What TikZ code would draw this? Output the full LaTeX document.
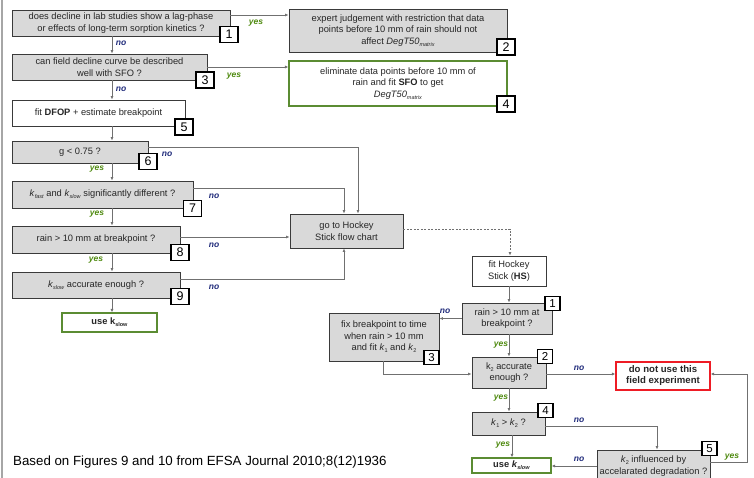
\documentclass[tikz,border=0pt]{standalone}
\usepackage{fontspec}
\setmainfont{Liberation Sans}
\usetikzlibrary{arrows.meta}
\definecolor{boxgray}{HTML}{D9D9D9}
\definecolor{edgegray}{HTML}{3A3A3A}
\definecolor{linegray}{HTML}{707070}
\definecolor{yesgreen}{HTML}{4F8A10}
\definecolor{nonavy}{HTML}{1F2A7A}
\definecolor{boxgreen}{HTML}{5B8C32}
\definecolor{boxred}{HTML}{EE1C25}
\definecolor{txt}{HTML}{262626}
\newcommand\lowsub[1]{\raisebox{-0.45ex}{\fontsize{5.5}{5.5}\selectfont #1}}
\tikzset{
  box/.style={draw=edgegray, line width=0.9pt, fill=boxgray, align=center, inner sep=1pt,
    font=\fontsize{9.3}{11.5}\selectfont, text=txt},
  wbox/.style={box, fill=white},
  gbox/.style={box, fill=white, draw=boxgreen, line width=1.1pt},
  rbox/.style={box, fill=white, draw=boxred, line width=1.1pt, font=\bfseries\fontsize{9.6}{11}\selectfont},
  badge/.style={draw=black, line width=1.1pt, fill=white, minimum width=18pt, minimum height=16pt,
    inner sep=0pt, font=\fontsize{12.5}{13}\selectfont},
  sbadge/.style={badge, minimum width=15pt, minimum height=13.5pt, font=\fontsize{11.5}{12}\selectfont},
  conn/.style={draw=linegray, line width=0.75pt, -{Latex[length=3.5pt,width=3pt]}},
  yeslab/.style={text=yesgreen, font=\bfseries\itshape\fontsize{8.5}{9}\selectfont, inner sep=0pt},
  nolab/.style={text=nonavy, font=\bfseries\itshape\fontsize{8.5}{9}\selectfont, inner sep=0pt},
}
\begin{document}
\begin{tikzpicture}[x=1pt,y=-1pt]
\useasboundingbox (0,0) rectangle (754,478);
\draw[color=gray!70, line width=1.2pt] (2,0) -- (2,478);

% left column boxes
\node[box, minimum width=218pt, minimum height=26pt] (b1) at (121,23)
  {does decline in lab studies show a lag-phase\\or effects of long-term sorption kinetics ?};
\node[box, minimum width=218pt, minimum height=43pt] (b2) at (398,30.5)
  {expert judgement with restriction that data\\points before 10 mm of rain should not\\affect \textit{DegT50}\lowsub{\textit{matrix}}};
\node[box, minimum width=195pt, minimum height=26pt] (b3) at (109.5,67)
  {can field decline curve be described\\well with SFO ?};
\node[gbox, minimum width=218pt, minimum height=45pt] (b4) at (398,83.5)
  {eliminate data points before 10 mm of\\rain and fit \textbf{SFO} to get\\\textit{DegT50}\lowsub{\textit{matrix}}};
\node[wbox, minimum width=173pt, minimum height=26pt] (b5) at (98.5,113)
  {fit \textbf{DFOP} + estimate breakpoint};
\node[box, minimum width=136pt, minimum height=22pt] (b6) at (80,152) {g < 0.75 ?};
\node[box, minimum width=181pt, minimum height=27pt] (b7) at (102.5,194.5)
  {\textit{k}\lowsub{\textit{fast}} and \textit{k}\lowsub{\textit{slow}} significantly different ?};
\node[box, minimum width=168pt, minimum height=27pt] (b8) at (96,239.5) {rain > 10 mm at breakpoint ?};
\node[box, minimum width=168pt, minimum height=26pt] (b9) at (96,285)
  {\textit{k}\lowsub{\textit{slow}} accurate enough ?};
\node[gbox, minimum width=95pt, minimum height=19pt] (u1) at (109.5,322.5) {\textbf{use k\lowsub{slow}}};
\node[box, minimum width=113pt, minimum height=34pt] (hk) at (346.5,231) {go to Hockey\\Stick flow chart};

% right part
\node[wbox, minimum width=74pt, minimum height=30pt] (hs) at (509,271) {fit Hockey\\Stick (\textbf{HS})};
\node[box, minimum width=90pt, minimum height=31pt] (r1) at (507,318.5) {rain > 10 mm at\\breakpoint ?};
\node[box, minimum width=110pt, minimum height=48pt] (fx) at (384,337)
  {fix breakpoint to time\\when rain > 10 mm\\and fit \textit{k}\lowsub{1} and \textit{k}\lowsub{2}};
\node[box, minimum width=74pt, minimum height=31pt] (k2) at (509,372.5) {k\lowsub{2} accurate\\enough ?};
\node[rbox, minimum width=94pt, minimum height=28pt] (dn) at (663,376) {do not use this\\field experiment};
\node[box, minimum width=73pt, minimum height=23pt] (k4) at (508.5,423.5)
  {\textit{k}\lowsub{1} > \textit{k}\lowsub{2} ?};
\node[gbox, minimum width=79pt, minimum height=15pt] (u2) at (511.5,465.5)
  {\textbf{use \textit{k}\lowsub{\textit{slow}}}};
\node[box, minimum width=113pt, minimum height=32pt] (k5) at (653.5,466)
  {\textit{k}\lowsub{2} influenced by\\accelarated degradation ?};

% connectors
\coordinate (cL) at (112,0);
\draw[conn] (b1.south -| cL) -- (b3.north -| cL);
\draw[conn] (b3.south -| cL) -- (b5.north -| cL);
\draw[conn] (b5.south -| cL) -- (b6.north -| cL);
\draw[conn] (b6.south -| cL) -- (b7.north -| cL);
\draw[conn] (b7.south -| cL) -- (b8.north -| cL);
\draw[conn] (b8.south -| cL) -- (b9.north -| cL);
\draw[conn] (b9.south -| cL) -- (u1.north -| cL);
\draw[conn] ([yshift=8pt]b1.east) -- ([yshift=8pt]b1.east -| b2.west);
\draw[conn] (b3.east) -- (b3.east -| b4.west);
\draw[conn] ([yshift=5pt]b6.east) -| ([xshift=11.5pt]hk.north);
\draw[conn] ([yshift=6.5pt]b7.east) -| ([xshift=-2.5pt]hk.north);
\draw[conn] ([yshift=2.5pt]b8.east) -- ([yshift=2.5pt]b8.east -| hk.west);
\draw[conn] ([yshift=6pt]b9.east) -| ([xshift=-2.5pt]hk.south);
\draw[conn, dashed, dash pattern=on 2pt off 1.5pt] ([yshift=2pt]hk.east) -| ([xshift=1pt]hs.north);
\draw[conn] (hs.south) -- (hs.south |- r1.north);
\draw[conn] (r1.west) -- (r1.west -| fx.east);
\draw[conn] (k2.north |- r1.south) -- (k2.north);
\draw[conn] ([xshift=-1pt]fx.south) |- ([yshift=-1.5pt]k2.west);
\draw[conn] ([yshift=-1.5pt]k2.east) -- ([yshift=-1.5pt]k2.east -| dn.west);
\draw[conn] (k2.south) -- (k2.south |- k4.north);
\draw[conn] ([xshift=3.5pt]k4.south) -- ([xshift=3.5pt]k4.south |- u2.north);
\draw[conn] ([yshift=-2.5pt]k4.east) -| ([xshift=3.5pt]k5.north);
\draw[conn] (k5.west) -- (k5.west -| u2.east);
\draw[conn] ([yshift=4pt]k5.east) -- ++(37,0) coordinate (cR) |- ([yshift=2pt]dn.east);

% badges
\node[badge] (n1) at (229,34.5) {1};
\node[badge] (n2) at (506,47) {2};
\node[badge] (n3) at (205,80) {3};
\node[badge] (n4) at (506,104) {4};
\node[badge] (n5) at (184,127) {5};
\node[badge] (n6) at (148,161.5) {6};
\node[badge] (n7) at (192.5,208.5) {7};
\node[badge] (n8) at (180,252.5) {8};
\node[badge] (n9) at (180,296.5) {9};
\node[sbadge] (m1) at (552.5,303.5) {1};
\node[sbadge] (m3) at (431.5,357.5) {3};
\node[sbadge] (m2) at (545,356.5) {2};
\node[sbadge] (m4) at (545.5,410.5) {4};
\node[sbadge] (m5) at (709.5,448.5) {5};

% labels
\node[yeslab] (y1) at (256,23) {yes};
\node[yeslab] (y2) at (234,76) {yes};
\node[nolab] (o1) at (121,43) {no};
\node[nolab] (o2) at (121,89) {no};
\node[nolab] (o6) at (167,154) {no};
\node[yeslab] (y6) at (97,169) {yes};
\node[nolab] (o7) at (214,196) {no};
\node[yeslab] (y7) at (97,214) {yes};
\node[nolab] (o8) at (214,245) {no};
\node[yeslab] (y8) at (96,260) {yes};
\node[nolab] (o9) at (214,287) {no};
\node[nolab] (or1) at (445,311) {no};
\node[yeslab] (yr1) at (501,345) {yes};
\node[nolab] (ok2) at (579,368) {no};
\node[yeslab] (yk2) at (501,398) {yes};
\node[nolab] (ok4) at (579,420) {no};
\node[yeslab] (yk4) at (503,445) {yes};
\node[nolab] (ok5) at (579,459) {no};
\node[yeslab] (yk5) at (732,457) {yes};

\node[anchor=west, inner sep=0pt, font=\fontsize{13.3}{15}\selectfont] (foot) at (13,462)
  {Based on Figures 9 and 10 from EFSA Journal 2010;8(12)1936};
\end{tikzpicture}
\end{document}
